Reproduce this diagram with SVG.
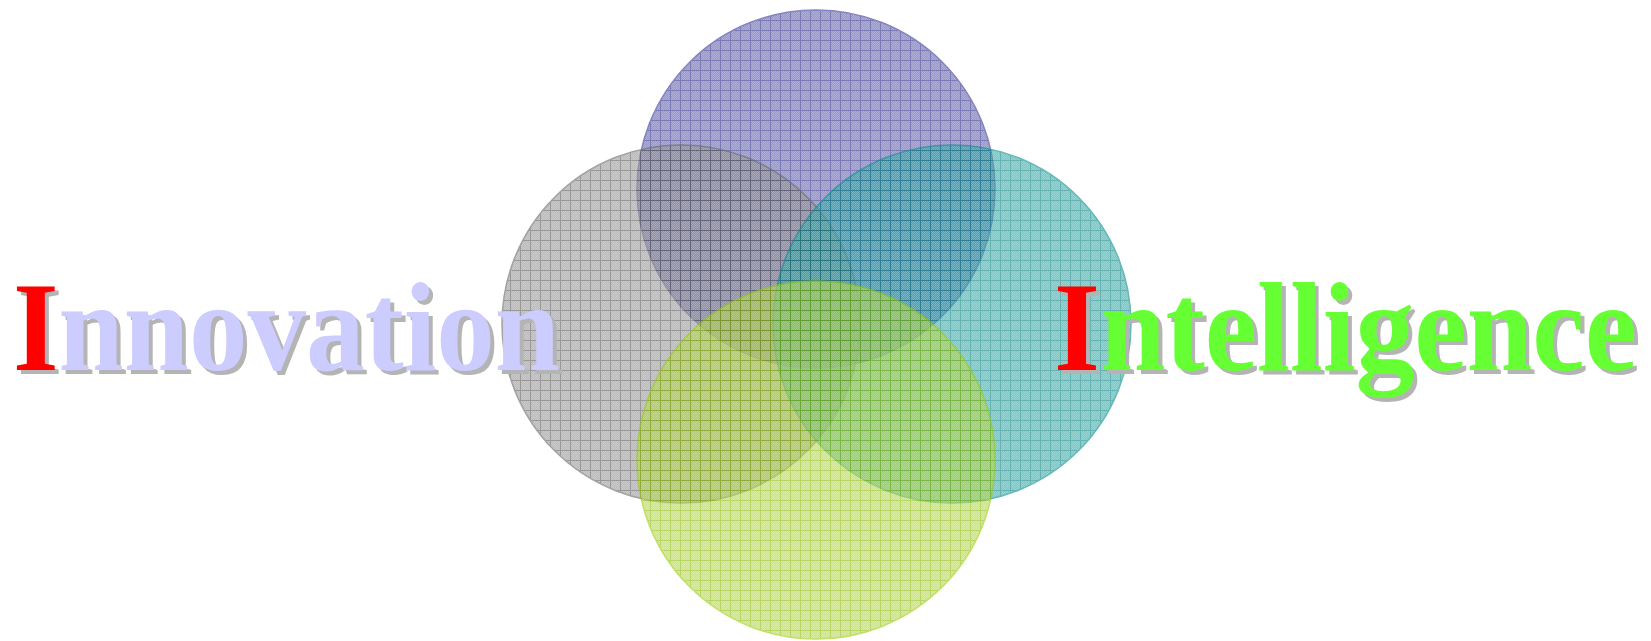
<svg xmlns="http://www.w3.org/2000/svg" width="1651" height="641" viewBox="0 0 1651 641">
  <style>
    .word { font-family: "Liberation Serif", "Times New Roman", serif; font-weight: bold; font-size: 127px; }
    .shadow { fill: #B4B4B4; }
    .red { fill: #FF0000; }
    .lav { fill: #CCCCFF; }
    .lime { fill: #66FF33; }
    .disc { opacity: 0.6; }
  </style>
  <defs>
    <pattern id="chk" width="2" height="2" patternUnits="userSpaceOnUse">
      <rect x="0" y="0" width="1" height="1" fill="#FFFFFF" fill-opacity="0.22"/>
      <rect x="1" y="1" width="1" height="1" fill="#FFFFFF" fill-opacity="0.22"/>
    </pattern>
    <pattern id="pBlue" width="10" height="10" patternUnits="userSpaceOnUse">
      <rect width="10" height="10" fill="#5454AA"/>
      <rect width="10" height="10" fill="url(#chk)"/>
      <path d="M0 0.5H10M0.5 0V10" stroke="#22228A" stroke-width="1" fill="none"/>
    </pattern>
    <pattern id="pGray" width="10" height="10" patternUnits="userSpaceOnUse">
      <rect width="10" height="10" fill="#8E8E8E"/>
      <rect width="10" height="10" fill="url(#chk)"/>
      <path d="M0 0.5H10M0.5 0V10" stroke="#555555" stroke-width="1" fill="none"/>
    </pattern>
    <pattern id="pTeal" width="10" height="10" patternUnits="userSpaceOnUse">
      <rect width="10" height="10" fill="#22A4A4"/>
      <rect width="10" height="10" fill="url(#chk)"/>
      <path d="M0 0.5H10M0.5 0V10" stroke="#008080" stroke-width="1" fill="none"/>
    </pattern>
    <pattern id="pGreen" width="10" height="10" patternUnits="userSpaceOnUse">
      <rect width="10" height="10" fill="#B0D538"/>
      <rect width="10" height="10" fill="url(#chk)"/>
      <path d="M0 0.5H10M0.5 0V10" stroke="#88BB00" stroke-width="1" fill="none"/>
    </pattern>
  </defs>
  <rect width="1651" height="641" fill="#FFFFFF"/>
  <g id="circle-blue" class="disc">
    <circle cx="816" cy="189" r="179" fill="url(#pBlue)" stroke="#333399" stroke-width="1.5"/>
  </g>
  <g id="circle-gray" class="disc">
    <circle cx="681" cy="324" r="179" fill="url(#pGray)" stroke="#666666" stroke-width="1.5"/>
  </g>
  <g id="circle-teal" class="disc">
    <circle cx="952" cy="324" r="179" fill="url(#pTeal)" stroke="#008C8C" stroke-width="1.5"/>
  </g>
  <g id="circle-green" class="disc">
    <circle cx="816" cy="460" r="179" fill="url(#pGreen)" stroke="#99CC00" stroke-width="1.5"/>
  </g>
  <g id="connectors"/>
  <g id="label-innovation">
    <text class="word shadow" x="17" y="374" textLength="547" lengthAdjust="spacingAndGlyphs">Innovation</text>
    <text class="word" x="13" y="370" textLength="547" lengthAdjust="spacingAndGlyphs"><tspan class="red">I</tspan><tspan class="lav">nnovation</tspan></text>
  </g>
  <g id="label-intelligence">
    <text class="word shadow" x="1058" y="374" textLength="583" lengthAdjust="spacingAndGlyphs">Intelligence</text>
    <text class="word" x="1054" y="370" textLength="583" lengthAdjust="spacingAndGlyphs"><tspan class="red">I</tspan><tspan class="lime">ntelligence</tspan></text>
  </g>
</svg>
